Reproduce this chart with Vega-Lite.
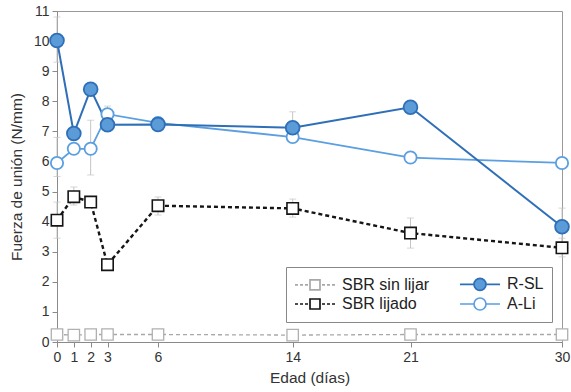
{
  "$schema": "https://vega.github.io/schema/vega-lite/v6.json",
  "width": 505,
  "height": 331,
  "autosize": {"type": "none"},
  "padding": {"left": 57, "top": 11, "right": 9, "bottom": 50},
  "background": "white",
  "config": {
    "font": "Liberation Sans",
    "view": {"stroke": "#9a9a9a", "strokeWidth": 1},
    "axis": {
      "grid": false,
      "domainColor": "#8a8a8a",
      "tickColor": "#8a8a8a",
      "tickSize": 5,
      "labelFontSize": 14,
      "labelColor": "#333333",
      "titleFontSize": 15.5,
      "titleFontWeight": "normal",
      "titleColor": "#333333",
      "labelPadding": 3
    },
    "axisY": {"titlePadding": 9},
    "axisX": {"titlePadding": 6}
  },
  "datasets": {
    "puntos": [
      {"serie": "SBR sin lijar", "dia": 0, "fuerza": 0.25},
      {"serie": "SBR sin lijar", "dia": 1, "fuerza": 0.23},
      {"serie": "SBR sin lijar", "dia": 2, "fuerza": 0.25},
      {"serie": "SBR sin lijar", "dia": 3, "fuerza": 0.25},
      {"serie": "SBR sin lijar", "dia": 6, "fuerza": 0.25},
      {"serie": "SBR sin lijar", "dia": 14, "fuerza": 0.23},
      {"serie": "SBR sin lijar", "dia": 21, "fuerza": 0.25},
      {"serie": "SBR sin lijar", "dia": 30, "fuerza": 0.25},
      {"serie": "SBR lijado", "dia": 0, "fuerza": 4.05},
      {"serie": "SBR lijado", "dia": 1, "fuerza": 4.83},
      {"serie": "SBR lijado", "dia": 2, "fuerza": 4.65},
      {"serie": "SBR lijado", "dia": 3, "fuerza": 2.57},
      {"serie": "SBR lijado", "dia": 6, "fuerza": 4.53},
      {"serie": "SBR lijado", "dia": 14, "fuerza": 4.44},
      {"serie": "SBR lijado", "dia": 21, "fuerza": 3.62},
      {"serie": "SBR lijado", "dia": 30, "fuerza": 3.13},
      {"serie": "A-Li", "dia": 0, "fuerza": 5.95},
      {"serie": "A-Li", "dia": 1, "fuerza": 6.42},
      {"serie": "A-Li", "dia": 2, "fuerza": 6.42},
      {"serie": "A-Li", "dia": 3, "fuerza": 7.57},
      {"serie": "A-Li", "dia": 6, "fuerza": 7.28},
      {"serie": "A-Li", "dia": 14, "fuerza": 6.81},
      {"serie": "A-Li", "dia": 21, "fuerza": 6.13},
      {"serie": "A-Li", "dia": 30, "fuerza": 5.95},
      {"serie": "R-SL", "dia": 0, "fuerza": 10.02},
      {"serie": "R-SL", "dia": 1, "fuerza": 6.93},
      {"serie": "R-SL", "dia": 2, "fuerza": 8.4},
      {"serie": "R-SL", "dia": 3, "fuerza": 7.22},
      {"serie": "R-SL", "dia": 6, "fuerza": 7.23},
      {"serie": "R-SL", "dia": 14, "fuerza": 7.12},
      {"serie": "R-SL", "dia": 21, "fuerza": 7.8},
      {"serie": "R-SL", "dia": 30, "fuerza": 3.83}
    ],
    "errores": [
      {"serie": "R-SL", "dia": 0, "lo": 9.3, "hi": 10.8},
      {"serie": "A-Li", "dia": 0, "lo": 5.5, "hi": 6.8},
      {"serie": "A-Li", "dia": 2, "lo": 5.55, "hi": 7.37},
      {"serie": "A-Li", "dia": 3, "lo": 7.04, "hi": 7.84},
      {"serie": "R-SL", "dia": 14, "lo": 6.65, "hi": 7.65},
      {"serie": "R-SL", "dia": 30, "lo": 3.25, "hi": 4.45},
      {"serie": "SBR lijado", "dia": 0, "lo": 3.45, "hi": 4.65},
      {"serie": "SBR lijado", "dia": 1, "lo": 4.55, "hi": 5.15},
      {"serie": "SBR lijado", "dia": 6, "lo": 4.22, "hi": 4.82},
      {"serie": "SBR lijado", "dia": 14, "lo": 4.15, "hi": 4.75},
      {"serie": "SBR lijado", "dia": 21, "lo": 3.12, "hi": 4.12},
      {"serie": "SBR lijado", "dia": 30, "lo": 2.83, "hi": 3.45}
    ]
  },
  "encoding": {
    "x": {
      "field": "dia",
      "type": "quantitative",
      "scale": {"domain": [0, 30], "nice": false},
      "title": "Edad (días)",
      "axis": {"values": [0, 1, 2, 3, 6, 14, 21, 30], "labelFlush": false}
    }
  },
  "layer": [
    {
      "data": {"name": "errores"},
      "mark": {"type": "rule", "color": "#c4c4c4", "strokeWidth": 1},
      "encoding": {
        "y": {"field": "lo", "type": "quantitative", "scale": {"domain": [0, 11], "nice": false}, "title": "Fuerza de unión (N/mm)", "axis": {"values": [0, 1, 2, 3, 4, 5, 6, 7, 8, 9, 10, 11], "labelOverlap": false}},
        "y2": {"field": "hi"}
      }
    },
    {
      "data": {"name": "errores"},
      "mark": {"type": "tick", "orient": "horizontal", "color": "#c4c4c4", "size": 7, "thickness": 1},
      "encoding": {
        "y": {"field": "lo", "type": "quantitative", "scale": {"domain": [0, 11], "nice": false}, "title": "Fuerza de unión (N/mm)", "axis": {"values": [0, 1, 2, 3, 4, 5, 6, 7, 8, 9, 10, 11], "labelOverlap": false}}
      }
    },
    {
      "data": {"name": "errores"},
      "mark": {"type": "tick", "orient": "horizontal", "color": "#c4c4c4", "size": 7, "thickness": 1},
      "encoding": {
        "y": {"field": "hi", "type": "quantitative", "scale": {"domain": [0, 11], "nice": false}, "title": "Fuerza de unión (N/mm)", "axis": {"values": [0, 1, 2, 3, 4, 5, 6, 7, 8, 9, 10, 11], "labelOverlap": false}}
      }
    },
    {
      "data": {"name": "puntos"},
      "transform": [{"filter": {"field": "serie", "equal": "SBR sin lijar"}}],
      "mark": {"type": "line", "color": "#a8a8a8", "strokeWidth": 1.3, "strokeDash": [4, 3]},
      "encoding": {
        "y": {"field": "fuerza", "type": "quantitative", "scale": {"domain": [0, 11], "nice": false}, "title": "Fuerza de unión (N/mm)", "axis": {"values": [0, 1, 2, 3, 4, 5, 6, 7, 8, 9, 10, 11], "labelOverlap": false}}
      }
    },
    {
      "data": {"name": "puntos"},
      "transform": [{"filter": {"field": "serie", "equal": "SBR lijado"}}],
      "mark": {"type": "line", "color": "#151515", "strokeWidth": 2.4, "strokeDash": [4, 3]},
      "encoding": {
        "y": {"field": "fuerza", "type": "quantitative", "scale": {"domain": [0, 11], "nice": false}, "title": "Fuerza de unión (N/mm)", "axis": {"values": [0, 1, 2, 3, 4, 5, 6, 7, 8, 9, 10, 11], "labelOverlap": false}}
      }
    },
    {
      "data": {"name": "puntos"},
      "transform": [{"filter": {"field": "serie", "equal": "A-Li"}}],
      "mark": {"type": "line", "color": "#5b9fe0", "strokeWidth": 1.8},
      "encoding": {
        "y": {"field": "fuerza", "type": "quantitative", "scale": {"domain": [0, 11], "nice": false}, "title": "Fuerza de unión (N/mm)", "axis": {"values": [0, 1, 2, 3, 4, 5, 6, 7, 8, 9, 10, 11], "labelOverlap": false}}
      }
    },
    {
      "data": {"name": "puntos"},
      "transform": [{"filter": {"field": "serie", "equal": "R-SL"}}],
      "mark": {"type": "line", "color": "#2f6fb8", "strokeWidth": 2},
      "encoding": {
        "y": {"field": "fuerza", "type": "quantitative", "scale": {"domain": [0, 11], "nice": false}, "title": "Fuerza de unión (N/mm)", "axis": {"values": [0, 1, 2, 3, 4, 5, 6, 7, 8, 9, 10, 11], "labelOverlap": false}}
      }
    },
    {
      "data": {"name": "puntos"},
      "transform": [{"filter": {"field": "serie", "equal": "SBR sin lijar"}}],
      "mark": {"type": "point", "shape": "square", "size": 130, "filled": true, "fill": "white", "stroke": "#b0b0b0", "strokeWidth": 1.3, "opacity": 1},
      "encoding": {
        "y": {"field": "fuerza", "type": "quantitative", "scale": {"domain": [0, 11], "nice": false}, "title": "Fuerza de unión (N/mm)", "axis": {"values": [0, 1, 2, 3, 4, 5, 6, 7, 8, 9, 10, 11], "labelOverlap": false}}
      }
    },
    {
      "data": {"name": "puntos"},
      "transform": [{"filter": {"field": "serie", "equal": "SBR lijado"}}],
      "mark": {"type": "point", "shape": "square", "size": 130, "filled": true, "fill": "white", "stroke": "#151515", "strokeWidth": 1.6, "opacity": 1},
      "encoding": {
        "y": {"field": "fuerza", "type": "quantitative", "scale": {"domain": [0, 11], "nice": false}, "title": "Fuerza de unión (N/mm)", "axis": {"values": [0, 1, 2, 3, 4, 5, 6, 7, 8, 9, 10, 11], "labelOverlap": false}}
      }
    },
    {
      "data": {"name": "puntos"},
      "transform": [{"filter": {"field": "serie", "equal": "A-Li"}}],
      "mark": {"type": "point", "shape": "circle", "size": 150, "filled": true, "fill": "white", "stroke": "#5b9fe0", "strokeWidth": 1.8, "opacity": 1},
      "encoding": {
        "y": {"field": "fuerza", "type": "quantitative", "scale": {"domain": [0, 11], "nice": false}, "title": "Fuerza de unión (N/mm)", "axis": {"values": [0, 1, 2, 3, 4, 5, 6, 7, 8, 9, 10, 11], "labelOverlap": false}}
      }
    },
    {
      "data": {"name": "puntos"},
      "transform": [{"filter": {"field": "serie", "equal": "R-SL"}}],
      "mark": {"type": "point", "shape": "circle", "size": 190, "filled": true, "fill": "#5b9bd8", "stroke": "#2f6fb8", "strokeWidth": 1.8, "opacity": 1},
      "encoding": {
        "y": {"field": "fuerza", "type": "quantitative", "scale": {"domain": [0, 11], "nice": false}, "title": "Fuerza de unión (N/mm)", "axis": {"values": [0, 1, 2, 3, 4, 5, 6, 7, 8, 9, 10, 11], "labelOverlap": false}}
      }
    },
    {
      "data": {"values": []},
      "mark": {"type": "point", "opacity": 1},
      "encoding": {
        "stroke": {
          "field": "serie",
          "type": "nominal",
          "scale": {"domain": ["SBR sin lijar", "SBR lijado", "R-SL", "A-Li"], "range": ["#a8a8a8", "#151515", "#2f6fb8", "#5b9fe0"]},
          "legend": {
            "title": null,
            "orient": "none",
            "legendX": 229,
            "legendY": 256,
            "columns": 2,
            "columnPadding": 26,
            "rowPadding": 0,
            "padding": 8,
            "strokeColor": "#888888",
            "fillColor": "white",
            "symbolSize": 256,
            "symbolStrokeWidth": 1.7,
            "symbolOpacity": 1,
            "labelFontSize": 16,
            "labelColor": "#222222",
            "labelOffset": 30
          }
        },
        "fill": {
          "field": "serie",
          "type": "nominal",
          "scale": {"domain": ["SBR sin lijar", "SBR lijado", "R-SL", "A-Li"], "range": ["white", "white", "#5b9bd8", "white"]}
        },
        "shape": {
          "field": "serie",
          "type": "nominal",
          "scale": {
            "domain": ["SBR sin lijar", "SBR lijado", "R-SL", "A-Li"],
            "range": [
              "M-1,0H-0.625M-0.375,0H0M0.25,0H0.625M0.875,-0.625H2.125V0.625H0.875ZM2.375,0H2.75M3,0H3.375M3.625,0H4",
              "M-1,0H-0.625M-0.375,0H0M0.25,0H0.625M0.875,-0.625H2.125V0.625H0.875ZM2.375,0H2.75M3,0H3.375M3.625,0H4",
              "M-1,0H0.75M2.25,0H4M2.25,0A0.75,0.75 0 1,1 0.75,0A0.75,0.75 0 1,1 2.25,0Z",
              "M-1,0H0.75M2.25,0H4M2.25,0A0.75,0.75 0 1,1 0.75,0A0.75,0.75 0 1,1 2.25,0Z"
            ]
          }
        }
      }
    }
  ]
}
